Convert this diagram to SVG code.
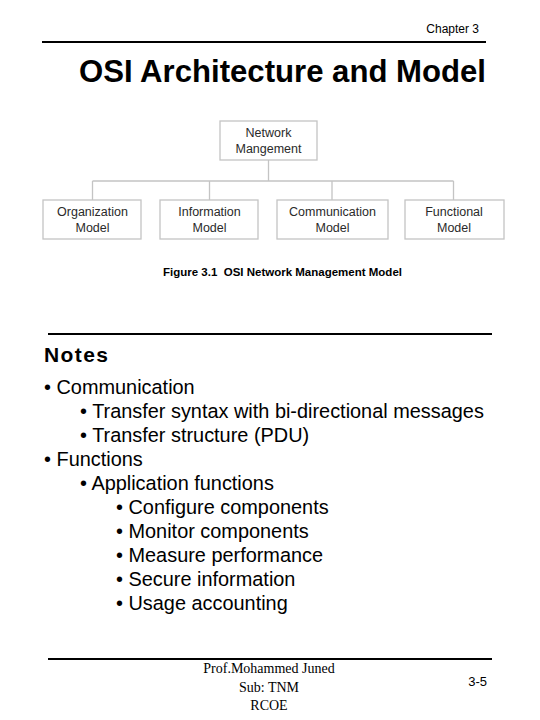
<svg xmlns="http://www.w3.org/2000/svg" width="540" height="720" viewBox="0 0 540 720">
<style>
.sans{font-family:"Liberation Sans",Arial,sans-serif;fill:#000}
.box{fill:#fff;stroke:#c4c4c4;stroke-width:1.3}
.bt{font-family:"Liberation Sans",Arial,sans-serif;font-size:12.5px;fill:#2a2a2a;text-anchor:middle}
.conn{stroke:#c4c4c4;stroke-width:1.3;fill:none}
.rule{stroke:#000;stroke-width:2}
.note{font-family:"Liberation Sans",Arial,sans-serif;font-size:19.9px;fill:#000}
.foot{font-family:"Liberation Serif","Times New Roman",serif;font-size:14px;fill:#000;text-anchor:middle}
</style>
<rect width="540" height="720" fill="#fff"/>
<text class="sans" x="479" y="33" font-size="12" text-anchor="end">Chapter 3</text>
<line class="rule" x1="42" y1="42" x2="486" y2="42"/>
<text class="sans" x="79" y="82" font-size="31" font-weight="bold" textLength="407" lengthAdjust="spacingAndGlyphs">OSI Architecture and Model</text>
<g id="connectors">
<path class="conn" d="M268.5 160V181M92.5 181H453.5M92.5 181V200M209.5 181V200M332 181V200M453.5 181V200"/>
</g>
<g id="network-management">
<rect class="box" x="220" y="121" width="97" height="39"/>
<text class="bt" x="268.5" y="137">Network</text>
<text class="bt" x="268.5" y="153">Mangement</text>
</g>
<g id="organization-model">
<rect class="box" x="43" y="200" width="98" height="39"/>
<text class="bt" x="92.5" y="216">Organization</text>
<text class="bt" x="92.5" y="232">Model</text>
</g>
<g id="information-model">
<rect class="box" x="160" y="200" width="98" height="39"/>
<text class="bt" x="209.5" y="216">Information</text>
<text class="bt" x="209.5" y="232">Model</text>
</g>
<g id="communication-model">
<rect class="box" x="277" y="200" width="111" height="39"/>
<text class="bt" x="332.5" y="216">Communication</text>
<text class="bt" x="332.5" y="232">Model</text>
</g>
<g id="functional-model">
<rect class="box" x="405" y="200" width="99" height="39"/>
<text class="bt" x="454" y="216">Functional</text>
<text class="bt" x="454" y="232">Model</text>
</g>
<text class="sans" x="163" y="276" font-size="11.5" font-weight="bold" fill="#222" textLength="239" lengthAdjust="spacingAndGlyphs" xml:space="preserve">Figure 3.1  OSI Network Management Model</text>
<line class="rule" x1="48" y1="334" x2="492" y2="334"/>
<text class="sans" x="44" y="362" font-size="21" font-weight="bold" textLength="64" lengthAdjust="spacing">Notes</text>
<text class="note" x="44" y="394">• Communication</text>
<text class="note" x="80" y="418">• Transfer syntax with bi-directional messages</text>
<text class="note" x="80" y="442">• Transfer structure (PDU)</text>
<text class="note" x="44" y="466">• Functions</text>
<text class="note" x="80" y="490">• Application functions</text>
<text class="note" x="116" y="514">• Configure components</text>
<text class="note" x="116" y="538">• Monitor components</text>
<text class="note" x="116" y="562">• Measure performance</text>
<text class="note" x="116" y="586">• Secure information</text>
<text class="note" x="116" y="610">• Usage accounting</text>
<line class="rule" x1="48" y1="659" x2="492" y2="659"/>
<text class="foot" x="269" y="673">Prof.Mohammed Juned</text>
<text class="foot" x="269" y="692">Sub: TNM</text>
<text class="foot" x="269" y="710">RCOE</text>
<text class="sans" x="487" y="686" font-size="13" text-anchor="end">3-5</text>
</svg>
